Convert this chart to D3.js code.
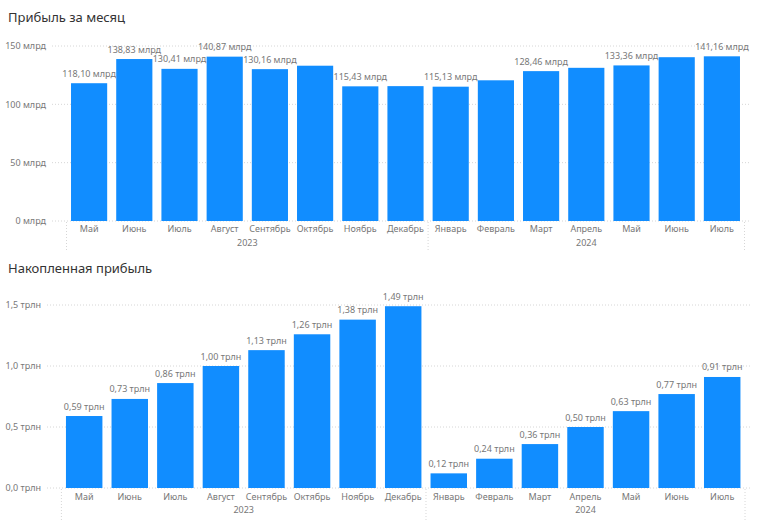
<!DOCTYPE html>
<html><head><meta charset="utf-8">
<script src="https://cdn.jsdelivr.net/npm/d3@7"></script>
<style>
body{margin:0;background:#fff;}
svg{display:block;font-family:"Segoe UI","Noto Sans","Open Sans",sans-serif;}
</style></head>
<body>
<svg id="chart" width="758" height="526"></svg>
<script>
const months = ["Май","Июнь","Июль","Август","Сентябрь","Октябрь","Ноябрь","Декабрь","Январь","Февраль","Март","Апрель","Май","Июнь","Июль"];
const years = ["2023","2023","2023","2023","2023","2023","2023","2023","2024","2024","2024","2024","2024","2024","2024"];
const monthlyProfit = [118.10,138.83,130.41,140.87,130.16,133.1,115.43,115.6,115.13,120.6,128.46,131.3,133.36,140.4,141.16];
const monthlyLabelShown = [true,true,true,true,true,false,true,false,true,false,true,false,true,false,true];
const cumulativeProfit = [0.59,0.73,0.86,1.00,1.13,1.26,1.38,1.49,0.12,0.24,0.36,0.50,0.63,0.77,0.91];
const monthlyTicks = [0,50,100,150];
const cumulativeTicks = [0,0.5,1.0,1.5];
const titles = ["Прибыль за месяц","Накопленная прибыль"];

const svg = d3.select("#chart");
const barColor = "#118DFF";
const keys = months.map((m,i)=>i);
const fmtComma = (s)=>s.replace(".",",");

function drawPanel(cfg){
  const g = svg.append("g");
  g.append("text").attr("x",8).attr("y",cfg.titleY).attr("font-size",13).attr("fill","#333").text(cfg.title);
  const x = d3.scaleBand().domain(keys).range(cfg.xRange).paddingInner(0.2).paddingOuter(0.1);
  const y = d3.scaleLinear().domain(cfg.yDomain).range(cfg.yRange);
  // gridlines
  g.selectAll(".grid").data(cfg.ticks).join("line")
    .attr("x1",cfg.gridX0).attr("x2",750).attr("y1",d=>y(d)).attr("y2",d=>y(d))
    .attr("stroke","#d6d6d6").attr("stroke-width",1).attr("stroke-dasharray","1,2");
  // y axis labels
  const yAxis = d3.axisLeft(y).tickValues(cfg.ticks).tickSize(0).tickPadding(0).tickFormat(cfg.tickFmt);
  const ya = g.append("g").attr("transform",`translate(${cfg.yLabelX},0)`).call(yAxis);
  ya.select(".domain").remove();
  ya.selectAll("text").attr("font-size",9).attr("fill","#777").attr("font-family","Segoe UI, Noto Sans, sans-serif");
  // bars
  g.selectAll(".bar").data(cfg.values).join("rect")
    .attr("x",(d,i)=>x(i)).attr("width",x.bandwidth())
    .attr("y",d=>y(d)).attr("height",d=>y(0)-y(d)).attr("fill",barColor);
  // data labels
  const lblData = cfg.values.map((v,i)=>({v,i})).filter(o=>cfg.shown[o.i]);
  g.selectAll(".lbl").data(lblData).join("text")
    .attr("x",o=>x(o.i)+x.bandwidth()/2).attr("y",o=>y(o.v)-6.5)
    .attr("text-anchor","middle").attr("font-size",9).attr("fill","#777").text(o=>cfg.labelFmt(o.v));
  // x axis month labels
  const xAxis = d3.axisBottom(x).tickSize(0).tickPadding(0).tickFormat(i=>months[i]);
  const xa = g.append("g").attr("transform",`translate(0,${cfg.monthY})`).call(xAxis);
  xa.select(".domain").remove();
  xa.selectAll("text").attr("font-size",9).attr("fill","#777").attr("dy","0.32em").attr("font-family","Segoe UI, Noto Sans, sans-serif");
  // year groups
  const groups = d3.groups(keys, i=>years[i]);
  const step = x.step(), half = step*x.paddingInner()/2;
  const seps = [x.range()[0]];
  groups.forEach(([yr,idx],gi)=>{
    const a = x(idx[0]) - half, b = x(idx[idx.length-1]) + x.bandwidth() + half;
    if(gi < groups.length-1) seps.push(b);
    g.append("text").attr("x",(a+b)/2).attr("y",cfg.yearY).attr("dy","0.32em")
      .attr("text-anchor","middle").attr("font-size",9).attr("fill","#777").text(yr);
  });
  seps.push(x.range()[1]);
  g.selectAll(".sep").data(seps).join("line")
    .attr("x1",d=>d).attr("x2",d=>d).attr("y1",y(0)+1).attr("y2",cfg.sepY2)
    .attr("stroke","#d6d6d6").attr("stroke-dasharray","1,2");
}

drawPanel({
  title:titles[0], titleY:22, xRange:[66.5,744.5], yDomain:[0,150], yRange:[221,46],
  ticks:monthlyTicks, gridX0:52, yLabelX:46, tickFmt:d=>d+" млрд",
  values:monthlyProfit, shown:monthlyLabelShown, labelFmt:d=>fmtComma(d3.format(".2f")(d))+" млрд",
  monthY:229.5, yearY:243.5, sepY2:250
});
drawPanel({
  title:titles[1], titleY:273, xRange:[61.4,745], yDomain:[0,1.5], yRange:[488,305],
  ticks:cumulativeTicks, gridX0:47, yLabelX:41, tickFmt:d=>fmtComma(d3.format(".1f")(d))+" трлн",
  values:cumulativeProfit, shown:cumulativeProfit.map(()=>true), labelFmt:d=>fmtComma(d3.format(".2f")(d))+" трлн",
  monthY:497, yearY:510, sepY2:520
});
</script>
</body></html>
